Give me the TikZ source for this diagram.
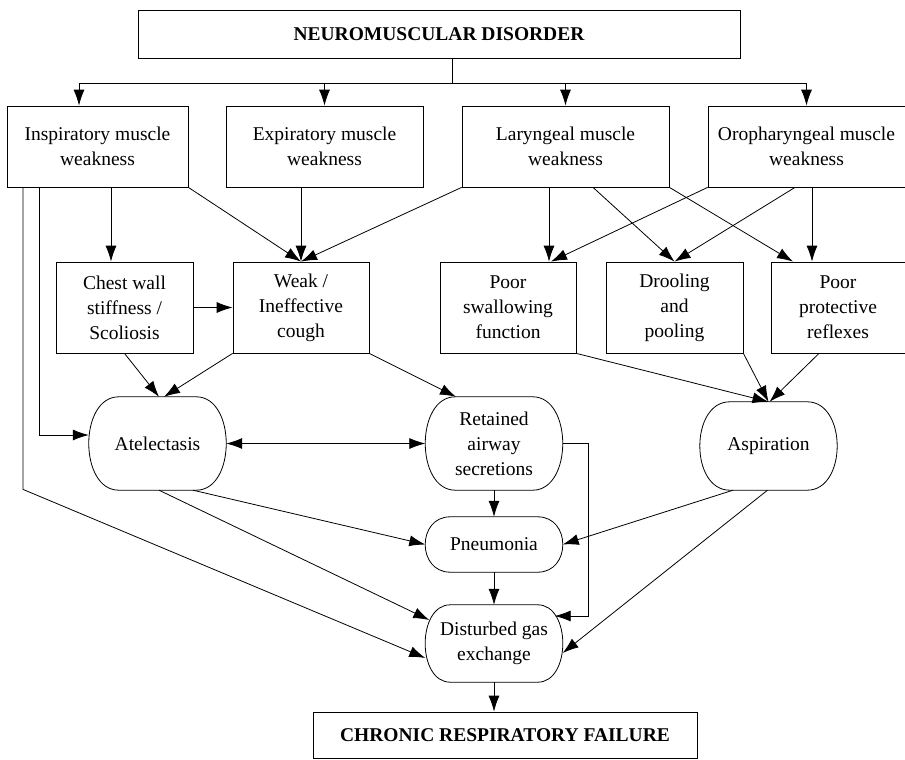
\documentclass[tikz,border=0pt]{standalone}
\usepackage{fontspec}
\setmainfont{Liberation Serif}
\usetikzlibrary{calc,arrows.meta}

\begin{document}
\begin{tikzpicture}[x=1pt,y=-1pt,
    every node/.style={font=\fontsize{19.5}{25}\selectfont, align=center, inner sep=2pt},
    box/.style={draw, line width=0.8pt},
    oval/.style={minimum width=137},
    arr/.style={line width=0.8pt, -{Latex[length=16pt,width=11pt]}},
    arrboth/.style={line width=0.8pt, {Latex[length=16pt,width=11pt]}-{Latex[length=16pt,width=11pt]}}]
    \useasboundingbox (0,0) rectangle (905,760);

    \node[box, minimum width=602, minimum height=48, font=\fontsize{19.5}{25}\selectfont\bfseries] (nmd) at (439,34) {NEUROMUSCULAR DISORDER};

    \node[box, minimum width=181, minimum height=81] (insp) at (97.5,146.5) {Inspiratory muscle\\weakness};
    \node[box, minimum width=197, minimum height=81] (exp) at (324.5,146.5) {Expiratory muscle\\weakness};
    \node[box, minimum width=207, minimum height=81] (lar) at (565.5,146.5) {Laryngeal muscle\\weakness};
    \node[box, minimum width=197, minimum height=81] (oro) at (806.5,146.5) {Oropharyngeal muscle\\weakness};

    \node[box, minimum width=137, minimum height=91] (chest) at (124.5,307.5) {Chest wall\\stiffness /\\Scoliosis};
    \node[box, minimum width=136, minimum height=91] (weak) at (301,307.5) {Weak /\\Ineffective\\cough};
    \node[box, minimum width=136, minimum height=91] (swal) at (508,307.5) {Poor\\swallowing\\function};
    \node[box, minimum width=137, minimum height=91] (drool) at (674.5,307.5) {Drooling\\and\\pooling};
    \node[box, minimum width=134, minimum height=91] (prot) at (838,307.5) {Poor\\protective\\reflexes};

    \node[oval, minimum height=93] (atel) at (157.5,443.5) {Atelectasis};
    \node[oval, minimum height=93] (ret) at (494,443.5) {Retained\\airway\\secretions};
    \node[oval, minimum height=88] (asp) at (768.5,446) {Aspiration};
    \node[oval, minimum height=55] (pneu) at (494,544.5) {Pneumonia};
    \node[oval, minimum height=77] (dis) at (494,643.5) {Disturbed gas\\exchange};

    \node[box, minimum width=384, minimum height=46, font=\fontsize{19.5}{25}\selectfont\bfseries] (crf) at (505,735) {CHRONIC RESPIRATORY FAILURE};

    % outlines of the rounded nodes
    \foreach \n/\r/\l in {atel/30/1.1, ret/30/1.1, asp/30/1.16, pneu/25/1.55, dis/25/1.11}
        \draw[line width=0.8pt] ($(\n.north west)+(\r,0)$) -- ($(\n.north east)+(-\r,0)$)
            to[out=0,in=0,looseness=\l] ($(\n.south east)+(-\r,0)$)
            -- ($(\n.south west)+(\r,0)$)
            to[out=180,in=180,looseness=\l] ($(\n.north west)+(\r,0)$) -- cycle;

    % from the disorder to the four kinds of weakness
    \coordinate (bus) at (452,83);
    \draw[line width=0.8pt] (nmd.south -| bus) -- (bus);
    \draw[arr] (bus) -| ([xshift=-18.5]insp.north);
    \draw[arr] (bus) -| (exp.north);
    \draw[arr] (bus) -| (lar.north);
    \draw[arr] (bus) -| (oro.north);

    % weakness to second row
    \draw[arr] ([xshift=-74.5]insp.south) -- ++(0,302) -- ([yshift=-14.5]dis.west);
    \draw[arr] ([xshift=-58.5]insp.south) |- ([yshift=8.5]atel.west);
    \draw[arr] ([xshift=13.5]insp.south) -- ([xshift=-13.5]chest.north);
    \draw[arr] (insp.south east) -- (weak.north);
    \draw[arr] (weak.north |- exp.south) -- (weak.north);
    \draw[arr] (lar.south west) -- (weak.north);
    \draw[arr] ([xshift=-16.5]lar.south) -- ([xshift=41]swal.north);
    \draw[arr] ([xshift=27.5]lar.south) -- (drool.north);
    \draw[arr] (lar.south east) -- ([xshift=-45]prot.north);
    \draw[arr] (oro.south west) -- ([xshift=43]swal.north);
    \draw[arr] ([xshift=-11.5]oro.south) -- (drool.north);
    \draw[arr] ([xshift=5.5]oro.south) -- ([xshift=-26]prot.north);

    % second row to the complications
    \draw[arr] (chest.east) -- (weak.west);
    \draw[arr] (chest.south) -- ([xshift=1.5]atel.north);
    \draw[arr] (weak.south west) -- ([xshift=6.5]atel.north);
    \draw[arr] (weak.south east) -- ([xshift=-38]ret.north);
    \draw[arr] (swal.south east) -- (asp.north);
    \draw[arr] (drool.south east) -- (asp.north);
    \draw[arr] ([xshift=-19]prot.south) -- ([xshift=1]asp.north);

    \draw[arrboth] (atel.east) -- (ret.west);
    \draw[arr] (ret.south) -- (pneu.north);
    \draw[arr] (ret.east) -- ++(26,0) |- ([xshift=-8,yshift=27.5]dis.east);
    \draw[arr] ([xshift=35.5]atel.south) -- (pneu.west);
    \draw[arr] ([xshift=1.5]atel.south) -- ([xshift=4,yshift=23.5]dis.west);
    \draw[arr] ([xshift=-35.5]asp.south) -- (pneu.east);
    \draw[arr] ([xshift=-1]asp.south) -- ([yshift=-9.5]dis.east);
    \draw[arr] (pneu.south) -- (dis.north);
    \draw[arr] (dis.south) -- (dis.south |- crf.north);
\end{tikzpicture}
\end{document}
